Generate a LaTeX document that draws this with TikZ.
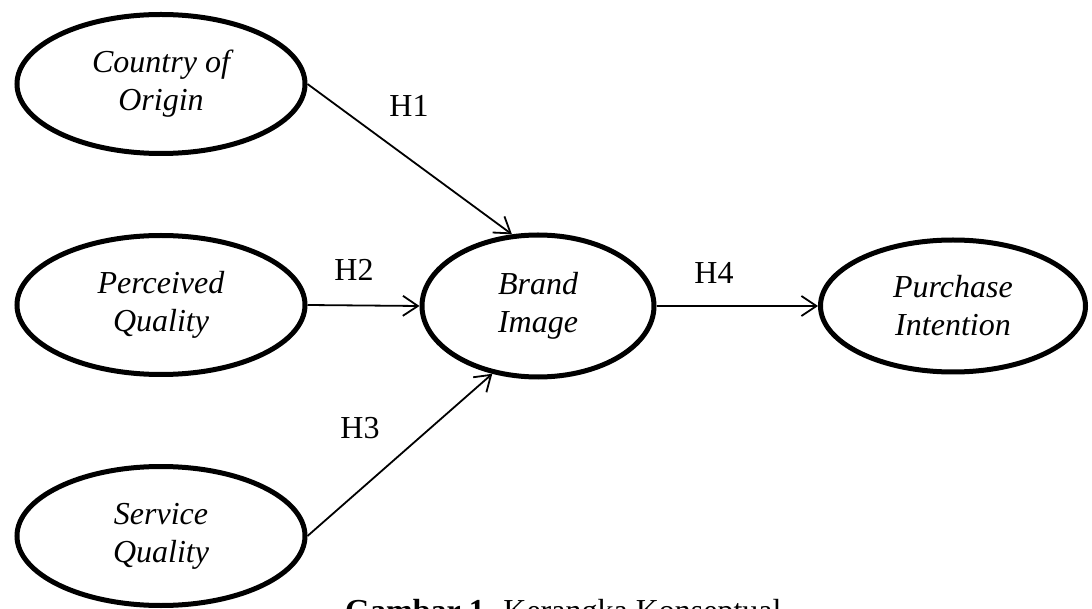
\documentclass[tikz,border=0pt]{standalone}
\usepackage{fontspec}
\setmainfont{Liberation Serif}
\usetikzlibrary{shapes.geometric,arrows.meta}
\begin{document}
\begin{tikzpicture}[x=1pt,y=-1pt,
  construct/.style={ellipse, draw, line width=5pt, inner sep=0pt, align=center,
    font=\fontsize{32}{38}\selectfont\itshape},
  hyp/.style={font=\fontsize{32}{38}\selectfont, inner sep=0pt, anchor=base},
  link/.style={line width=1.8pt, -{Straight Barb[length=15pt,width=20pt,line width=1.8pt]}}]
\useasboundingbox (0,0) rectangle (1092,609);
\clip (0,0) rectangle (1092,609);
\node[construct, minimum width=288pt, minimum height=139pt] (coo) at (161,84) {Country of\\Origin};
\node[construct, minimum width=288pt, minimum height=139pt] (pq) at (161,305) {Perceived\\Quality};
\node[construct, minimum width=288pt, minimum height=139pt] (sq) at (161,536) {Service\\Quality};
\node[construct, minimum width=232pt, minimum height=142pt] (bi) at (538,306) {Brand\\Image};
\node[construct, minimum width=265pt, minimum height=132pt] (pi) at (953,306) {Purchase\\Intention};
\draw[link] (coo.east) -- (bi.110);
\draw[link] (pq.east) -- (bi.west);
\draw[link] (sq.east) -- (bi.236);
\draw[link] (bi.east) -- (pi.west);
\node[hyp] (h1) at (409,117) {H1};
\node[hyp] (h2) at (354,281) {H2};
\node[hyp] (h3) at (360,438) {H3};
\node[hyp] (h4) at (714,284) {H4};
\node[anchor=base west, inner sep=0pt, font=\fontsize{32}{38}\selectfont] (cap) at (345,621) {\textbf{Gambar 1.} Kerangka Konseptual};
\end{tikzpicture}
\end{document}
